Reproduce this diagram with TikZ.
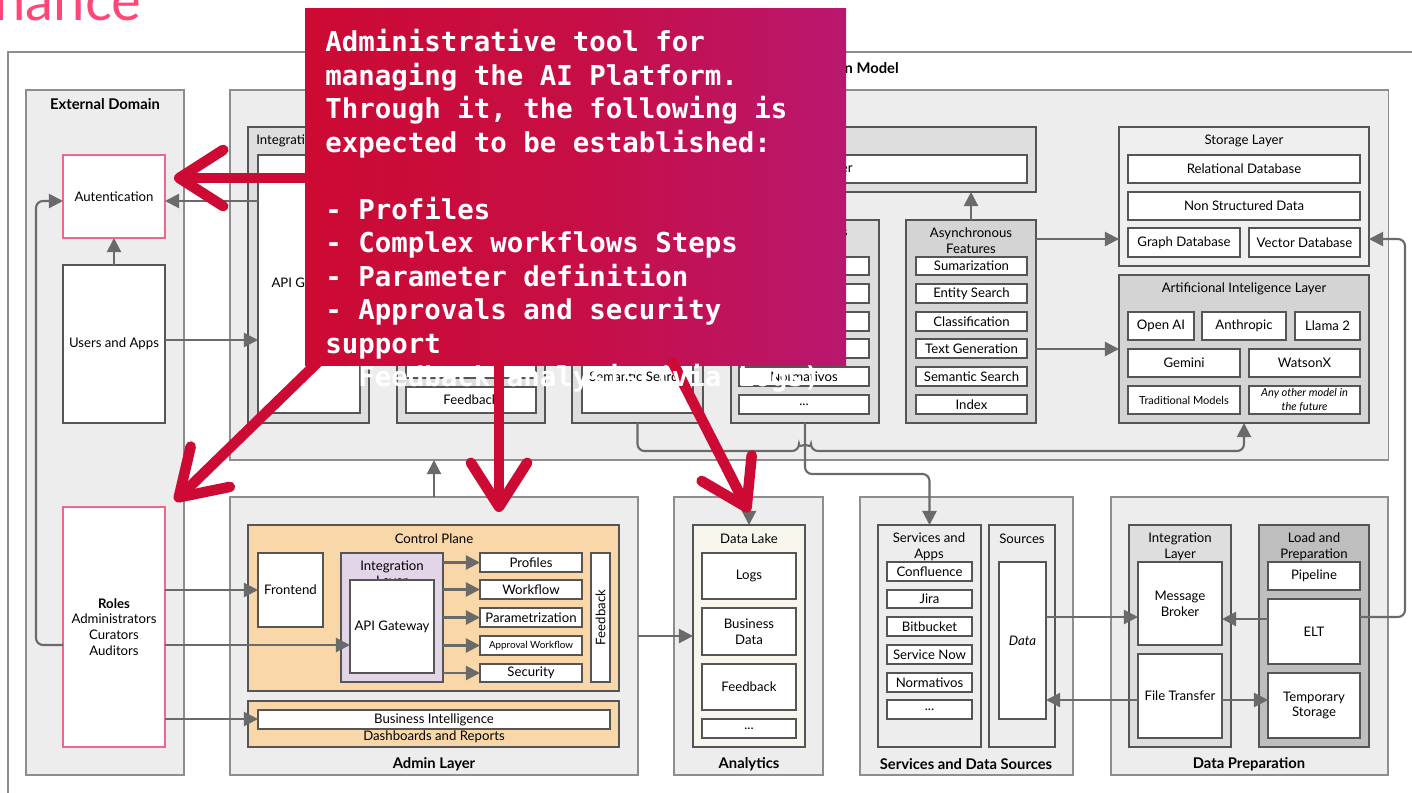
\documentclass[tikz,border=0pt]{standalone}
\usepackage{fontspec}
\setmainfont{Lato}
\newfontfamily\calfont{DejaVu Sans Mono}
\usetikzlibrary{arrows.meta,calc}

\definecolor{bgc}{HTML}{EDEDED}
\definecolor{cborder}{HTML}{8E8E8E}
\definecolor{dborder}{HTML}{555555}
\definecolor{midgray}{HTML}{DEDEDE}
\definecolor{darkgray2}{HTML}{D4D4D4}
\definecolor{lpgray}{HTML}{BEBEBE}
\definecolor{lightst}{HTML}{EFEFEF}
\definecolor{peach}{HTML}{FAD7A8}
\definecolor{lav}{HTML}{E1D5E7}
\definecolor{cream}{HTML}{F8F6EC}
\definecolor{pinkb}{HTML}{F2668B}
\definecolor{conncol}{HTML}{6A6A6A}
\definecolor{redc}{HTML}{CC0A33}
\definecolor{midc}{HTML}{C70E45}
\definecolor{magc}{HTML}{B9176F}
\definecolor{titlepink}{HTML}{FF4676}

\newcommand{\fsn}{\fontsize{7.5}{9}\selectfont}
\newcommand{\fss}{\fontsize{6.3}{7.6}\selectfont}
\newcommand{\fsxs}{\fontsize{5.6}{6.6}\selectfont}
\newcommand{\fsb}{\fontsize{8.4}{10}\selectfont\bfseries}

\newcommand{\boxnode}[7][]{%
  \pgfmathsetmacro\bxw{(#5-#3)*0.02}%
  \pgfmathsetmacro\bxh{(#6-#4)*0.02}%
  \node[rectangle, minimum width=\bxw cm, minimum height=\bxh cm, inner sep=0pt, outer sep=0pt, align=center, #1] (#2) at ({(#3+#5)/2},{(#4+#6)/2}) {#7};}

\tikzset{
  cont/.style={draw=cborder, fill=bgc, line width=0.6pt},
  wbox/.style={draw=dborder, fill=white, line width=0.7pt, font=\fsn},
  pbox/.style={draw=pinkb, fill=white, line width=0.6pt, font=\fsn},
  gbox/.style={draw=dborder, fill=midgray, line width=0.7pt},
  dgbox/.style={draw=dborder, fill=darkgray2, line width=0.7pt},
  ttl/.style={font=\fsn, align=center, inner sep=0pt},
  btitle/.style={font=\fsb, inner sep=0pt},
  conn/.style={draw=conncol, line width=1.2pt, -{Triangle[length=8pt,width=8pt]}, rounded corners=4pt},
  redarr/.style={draw=redc, line width=6pt, line cap=round, line join=round, -{Straight Barb[length=25pt,width=32pt,round]}},
  caltext/.style={anchor=base west, text=white, inner sep=0pt, font=\calfont\bfseries\fontsize{15.6}{19}\selectfont}
}

\begin{document}
\begin{tikzpicture}[x=0.02cm,y=-0.02cm]
\useasboundingbox (0,0) rectangle (1412,792);
\clip (0,0) rectangle (1412,792);

% title fragment
\node[font=\fontsize{32}{32}\selectfont, text=titlepink, anchor=base west, inner sep=0pt] (ttlfrag) at (-6,20) {nance};

% outer frame
\boxnode[draw=cborder, fill=white, line width=0.7pt]{outer}{8}{52}{1450}{830}{}
\node[btitle, anchor=east] (modeltitle) at (899,68) {n Model};

% External domain
\boxnode[cont]{ext}{26}{90}{184}{775}{}
\node[btitle] (extt) at (105,104) {External Domain};
\boxnode[pbox]{auth}{63}{155}{165}{238}{Autentication}
\boxnode[wbox]{users}{63}{265}{165}{423}{Users and Apps}
\boxnode[pbox]{roles}{63}{507}{165}{747}{\textbf{Roles}\\Administrators\\Curators\\Auditors}

% Core model
\boxnode[cont]{core}{230}{90}{1388}{460}{}
\boxnode[gbox]{intl}{248}{127}{369}{423}{}
\node[ttl, anchor=west] (intlt) at (256,141) {Integration Layer};
\boxnode[wbox]{apigw}{258}{155}{360}{413}{API Gateway}

\boxnode[gbox]{topb}{397}{127}{1036}{192}{}
\boxnode[wbox]{topw}{406}{155}{1027}{183}{}
\node[ttl, anchor=east] (topwt) at (853,169) {er};

\boxnode[gbox]{syncb}{397}{220}{545}{423}{}
\boxnode[wbox]{syncw}{406}{235}{536}{378}{}
\boxnode[wbox]{fbk}{406}{387}{536}{413}{Feedback}

\boxnode[gbox]{semb}{572}{220}{703}{423}{}
\boxnode[wbox]{semw}{582}{235}{693}{413}{}
\node[ttl] (semt) at (637,377) {Semantic Search};

\boxnode[gbox]{conb}{731}{220}{879}{423}{}
\node[ttl, anchor=east] (conbt) at (848,233) {s};
\boxnode[wbox]{cb1}{739}{257}{869}{275}{}
\boxnode[wbox]{cb2}{739}{284}{869}{303}{}
\boxnode[wbox]{cb3}{739}{312}{869}{331}{}
\boxnode[wbox]{cb4}{739}{339}{869}{358}{}
\boxnode[wbox]{cb5}{739}{367}{869}{386}{Normativos}
\boxnode[wbox]{cb6}{739}{395}{869}{414}{...}

\boxnode[dgbox]{async}{906}{220}{1036}{423}{}
\node[ttl] (asynct) at (971,241) {Asynchronous\\Features};
\boxnode[wbox]{as1}{916}{257}{1027}{275}{Sumarization}
\boxnode[wbox]{as2}{916}{284}{1027}{303}{Entity Search}
\boxnode[wbox]{as3}{916}{312}{1027}{331}{Classification}
\boxnode[wbox]{as4}{916}{339}{1027}{358}{Text Generation}
\boxnode[wbox]{as5}{916}{367}{1027}{386}{Semantic Search}
\boxnode[wbox]{as6}{916}{395}{1027}{414}{Index}

\boxnode[draw=dborder, fill=lightst, line width=0.7pt]{stor}{1119}{127}{1369}{266}{}
\node[ttl] (stort) at (1244,141) {Storage Layer};
\boxnode[wbox]{rel}{1128}{155}{1360}{183}{Relational Database}
\boxnode[wbox]{nonst}{1128}{192}{1360}{220}{Non Structured Data}
\boxnode[wbox]{graph}{1128}{228}{1240}{257}{Graph Database}
\boxnode[wbox]{vect}{1249}{228}{1360}{257}{Vector Database}

\boxnode[dgbox]{ai}{1119}{275}{1369}{423}{}
\node[ttl] (ait) at (1244,289) {Artificional Inteligence Layer};
\boxnode[wbox]{oai}{1128}{312}{1194}{340}{Open AI}
\boxnode[wbox]{anth}{1202}{312}{1286}{340}{Anthropic}
\boxnode[wbox]{llama}{1295}{312}{1360}{340}{Llama 2}
\boxnode[wbox]{gem}{1128}{349}{1240}{377}{Gemini}
\boxnode[wbox]{wat}{1249}{349}{1360}{377}{WatsonX}
\boxnode[wbox, font=\fss]{trad}{1128}{386}{1240}{414}{Traditional Models}
\boxnode[wbox, font=\fss\itshape]{anyo}{1249}{386}{1360}{414}{Any other model in\\the future}

% Admin layer
\boxnode[cont]{admin}{230}{497}{638}{775}{}
\node[btitle] (admint) at (434,764) {Admin Layer};
\boxnode[draw=dborder, fill=peach, line width=0.7pt]{cp}{248}{525}{619}{691}{}
\node[ttl] (cpt) at (434,539) {Control Plane};
\boxnode[wbox]{frontend}{258}{553}{323}{627}{Frontend}
\boxnode[draw=dborder, fill=lav, line width=0.7pt]{intp}{341}{553}{443}{682}{}
\node[ttl, font=\fontsize{7.5}{8.5}\selectfont] (intpt) at (392,574) {Integration\\Layer};
\boxnode[wbox]{apiadm}{350}{580}{434}{673}{API Gateway}
\boxnode[wbox]{prof}{480}{553}{582}{572}{Profiles}
\boxnode[wbox]{wf}{480}{580}{582}{599}{Workflow}
\boxnode[wbox]{par}{480}{608}{582}{627}{Parametrization}
\boxnode[wbox, font=\fsxs]{appr}{480}{636}{582}{655}{Approval Workflow}
\boxnode[wbox]{sec}{480}{664}{582}{682}{Security}
\boxnode[wbox]{cpfb}{591}{553}{610}{682}{}
\node[ttl, rotate=90] (cpfbt) at (cpfb.center) {Feedback};
\boxnode[draw=dborder, fill=peach, line width=0.7pt]{bi}{248}{701}{619}{747}{}
\boxnode[wbox]{biw}{258}{710}{610}{729}{Business Intelligence}
\node[ttl] (bit) at (434,737) {Dashboards and Reports};

% Analytics
\boxnode[cont]{anl}{674}{497}{823}{775}{}
\node[btitle] (anlt) at (749,764) {Analytics};
\boxnode[draw=dborder, fill=cream, line width=0.7pt]{dlake}{693}{525}{805}{747}{}
\node[ttl] (dlaket) at (749,539) {Data Lake};
\boxnode[wbox]{logs}{702}{553}{796}{599}{Logs}
\boxnode[wbox]{bdata}{702}{608}{796}{655}{Business\\Data}
\boxnode[wbox]{dfb}{702}{664}{796}{710}{Feedback}
\boxnode[wbox]{ddots}{702}{719}{796}{738}{...}

% Services and Data Sources
\boxnode[cont]{sds}{860}{497}{1073}{775}{}
\node[btitle] (sdst) at (966,764) {Services and Data Sources};
\boxnode[draw=dborder, fill=bgc, line width=0.7pt]{svc}{878}{525}{981}{747}{}
\node[ttl, font=\fontsize{7.5}{9}\selectfont] (svct) at (929,547) {Services and\\Apps};
\boxnode[wbox]{sv1}{887}{562}{972}{581}{Confluence}
\boxnode[wbox]{sv2}{887}{590}{972}{608}{Jira}
\boxnode[wbox]{sv3}{887}{617}{972}{636}{Bitbucket}
\boxnode[wbox]{sv4}{887}{645}{972}{664}{Service Now}
\boxnode[wbox]{sv5}{887}{673}{972}{692}{Normativos}
\boxnode[wbox]{sv6}{887}{700}{972}{719}{...}
\boxnode[draw=dborder, fill=bgc, line width=0.7pt]{src}{989}{525}{1055}{747}{}
\node[ttl] (srct) at (1022,539) {Sources};
\boxnode[wbox, font=\fsn\itshape]{data}{999}{562}{1046}{719}{Data}

% Data Preparation
\boxnode[cont]{dprep}{1111}{497}{1388}{775}{}
\node[btitle] (dprept) at (1249,764) {Data Preparation};
\boxnode[gbox]{intl2}{1129}{525}{1231}{747}{}
\node[ttl, font=\fontsize{7.5}{9}\selectfont] (intl2t) at (1180,547) {Integration\\Layer};
\boxnode[wbox]{mb}{1138}{562}{1222}{645}{Message\\Broker}
\boxnode[wbox]{ft}{1138}{654}{1222}{738}{File Transfer}
\boxnode[draw=dborder, fill=lpgray, line width=0.7pt]{lp}{1259}{525}{1369}{747}{}
\node[ttl, font=\fontsize{7.5}{9}\selectfont] (lpt) at (1314,547) {Load and\\Preparation};
\boxnode[wbox]{pipe}{1268}{562}{1360}{590}{Pipeline}
\boxnode[wbox]{elt}{1268}{599}{1360}{664}{ELT}
\boxnode[wbox]{tmp}{1268}{673}{1360}{738}{Temporary\\Storage}

% helper coordinates
\coordinate (y201) at (0,201);
\coordinate (y340) at (0,340);
\coordinate (y645) at (0,645);
\coordinate (y719) at (0,719);
\coordinate (y636) at (0,636);
\coordinate (y451) at (0,451);
\coordinate (y474) at (0,474);
\coordinate (y239) at (0,239);
\coordinate (y349) at (0,349);
\coordinate (y617) at (0,617);
\coordinate (y619) at (0,619);
\coordinate (y700) at (0,700);
\coordinate (xl) at (36,0);
\coordinate (xr) at (1405,0);
\coordinate (hopl) at (799,0);

% connectors
\draw[conn] (users.north) -- (auth.south);
\draw[conn] (apigw.west |- y201) -- (auth.east |- y201);
\draw[conn] (users.east |- y340) -- (apigw.west |- y340);
\draw[conn] (roles.west |- y645) -| (xl |- y201) -- (auth.west |- y201);
\draw[conn] (roles.east |- frontend.west) -- (frontend.west);
\draw[conn] (roles.east |- y645) -- (apiadm.west |- y645);
\draw[conn] (roles.east |- y719) -- (biw.west |- y719);
\foreach \n in {prof,wf,par,appr,sec}{
  \draw[conn] (intp.east |- \n.west) -- (\n.west);
}
\draw[conn] (admin.north) -- (core.south -| admin.north);
\draw[conn] (admin.east |- y636) -- (dlake.west |- y636);
\draw[conn] (core.south -| dlake.north) -- (dlake.north);
\draw[conn] (semb.south) -- (semb.south |- y451) -- (hopl |- y451) arc[start angle=180, end angle=360, radius=6] -- (ai.south |- y451) -- (ai.south);
\draw[conn] (conb.south) |- (svc.north |- y474) -- (svc.north);
\draw[conn] (async.north) -- (topb.south -| async.north);
\draw[conn] (async.east |- y239) -- (stor.west |- y239);
\draw[conn] (async.east |- y349) -- (ai.west |- y349);
\draw[conn] (elt.east |- y617) -- (xr |- y617) -- (xr |- y239) -- (stor.east |- y239);
\draw[conn] (data.east |- y617) -- (mb.west |- y617);
\draw[conn] (elt.west |- y619) -- (mb.east |- y619);
\draw[conn] (ft.west |- y700) -- (data.east |- y700);
\draw[conn] (ft.east |- y700) -- (tmp.west |- y700);

% callout
\boxnode[left color=redc, right color=magc, middle color=midc]{callout}{305}{8}{846}{365}{}
\coordinate (r1t) at (174,178);
\coordinate (r2t) at (175,501);
\coordinate (r3t) at (499,512);
\coordinate (r4t) at (749,512);
\draw[redarr] (callout.west |- r1t) -- (r1t);
\draw[redarr] ($(callout.south west)+(12,-2)$) -- (r2t);
\draw[redarr] (callout.south -| r3t) -- (r3t);
\draw[redarr] ($(callout.south west)+(368,-2)$) -- (r4t);

\node[caltext] (cl1) at (325,51.5) {Administrative tool for};
\node[caltext] (cl2) at (325,85) {managing the AI Platform.};
\node[caltext] (cl3) at (325,118.5) {Through it, the following is};
\node[caltext] (cl4) at (325,152) {expected to be established:};
\node[caltext] (cl5) at (325,219) {- Profiles};
\node[caltext] (cl6) at (325,252.5) {- Complex workflows Steps};
\node[caltext] (cl7) at (325,286) {- Parameter definition};
\node[caltext] (cl8) at (325,319.5) {- Approvals and security};
\node[caltext] (cl9) at (325,353) {support};
\node[caltext] (cl10) at (325,386.5) {- Feedback analysis (via Logs)};
\end{tikzpicture}
\end{document}
